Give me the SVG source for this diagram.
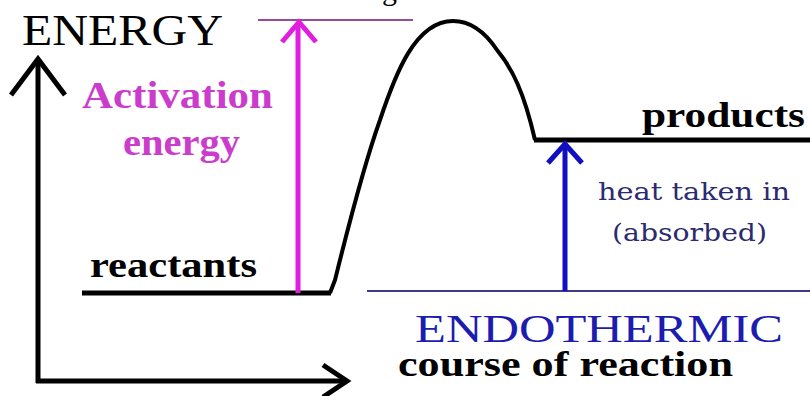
<svg xmlns="http://www.w3.org/2000/svg" width="810" height="396" viewBox="0 0 810 396">
  <style>
    .ser { font-family: "Liberation Serif", "Times New Roman", serif; }
    .bold { font-weight: bold; }
    .axis { stroke: #000; stroke-width: 5; fill: none; stroke-linecap: butt; stroke-linejoin: miter; }
    .curve { stroke: #000; stroke-width: 4; fill: none; stroke-linejoin: round; }
  </style>
  <rect width="810" height="396" fill="#fff"/>

  <text class="ser" x="382" y="0" font-size="30" fill="#000">g</text>

  <g id="axes">
    <line class="axis" x1="38" y1="60" x2="38" y2="383"/>
    <polyline class="axis" points="11,95 38,59 65,95"/>
    <line class="axis" x1="36" y1="381" x2="345" y2="381"/>
    <polyline class="axis" points="323,365 347,381 323,397"/>
    <text class="ser" x="22" y="45" font-size="45" fill="#000" textLength="201" lengthAdjust="spacingAndGlyphs">ENERGY</text>
    <text class="ser bold" x="398" y="376" font-size="36" fill="#000" textLength="335" lengthAdjust="spacingAndGlyphs">course of reaction</text>
  </g>

  <g id="energy-curve">
    <line class="axis" stroke-width="4" x1="82" y1="293" x2="331" y2="293"/>
    <path class="curve" d="M330,293 L335,280 C345,240 362,170 380,120 C395,75 415,21 453,21 C470,21 485,32 497,50 C512,68 524,92 535,140"/>
    <line class="axis" stroke-width="4" x1="534" y1="140" x2="810" y2="140"/>
  </g>

  <g id="reactants">
    <text class="ser bold" x="90" y="277" font-size="35" fill="#000" textLength="167" lengthAdjust="spacingAndGlyphs">reactants</text>
  </g>

  <g id="products">
    <text class="ser bold" x="642" y="127" font-size="36" fill="#000" textLength="163" lengthAdjust="spacingAndGlyphs">products</text>
  </g>

  <g id="connectors">
    <line x1="258" y1="20" x2="413" y2="20" stroke="#9a4a9a" stroke-width="2"/>
    <line x1="298" y1="293" x2="298" y2="24" stroke="#e21de2" stroke-width="5"/>
    <polyline points="282,42 299,22 316,42" fill="none" stroke="#e21de2" stroke-width="5"/>
    <line x1="367" y1="291" x2="810" y2="291" stroke="#3c3c86" stroke-width="2"/>
    <line x1="565" y1="291" x2="565" y2="146" stroke="#1010c0" stroke-width="5"/>
    <polyline points="548,163 565,144 582,163" fill="none" stroke="#1010c0" stroke-width="5"/>
  </g>

  <g id="activation-energy">
    <text class="ser bold" x="82" y="108" font-size="38" fill="#cc3ccc" textLength="191" lengthAdjust="spacingAndGlyphs">Activation</text>
    <text class="ser bold" x="123" y="155" font-size="38" fill="#cc3ccc" textLength="117" lengthAdjust="spacingAndGlyphs">energy</text>
  </g>

  <g id="heat-taken-in">
    <text x="598" y="200" font-family="DejaVu Serif, serif" font-size="25" fill="#2b2b70" textLength="192" lengthAdjust="spacingAndGlyphs">heat taken in</text>
    <text x="612" y="241" font-family="DejaVu Serif, serif" font-size="25" fill="#2b2b70" textLength="155" lengthAdjust="spacingAndGlyphs">(absorbed)</text>
  </g>

  <g id="endothermic">
    <text class="ser" x="415" y="342" font-size="40" fill="#1c1cb0" textLength="368" lengthAdjust="spacingAndGlyphs">ENDOTHERMIC</text>
  </g>
</svg>
